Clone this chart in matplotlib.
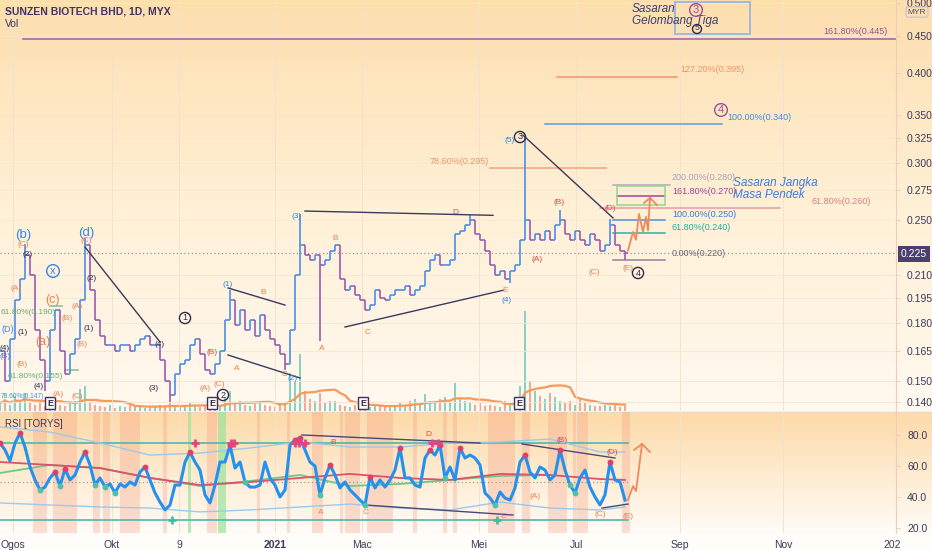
import numpy as np
import pandas as pd
import matplotlib
matplotlib.use("Agg")
import matplotlib.pyplot as plt
from matplotlib.collections import LineCollection
from matplotlib.patches import Rectangle
from matplotlib.ticker import FixedLocator, NullLocator, NullFormatter

plt.rcParams['font.family'] = ['Liberation Sans', 'DejaVu Sans']

# ---------------- data (one sample = 2 daily bars) ----------------
close = [0.165, 0.150, 0.171, 0.194, 0.207, 0.224, 0.210, 0.176, 0.160, 0.150,
         0.176, 0.188, 0.165, 0.153, 0.163, 0.171, 0.194, 0.231, 0.200, 0.182,
         0.173, 0.168, 0.168, 0.165, 0.168, 0.168, 0.165, 0.168, 0.171, 0.173,
         0.168, 0.168, 0.160, 0.150, 0.143, 0.153, 0.158, 0.160, 0.168, 0.171,
         0.163, 0.155, 0.153, 0.158, 0.165, 0.182, 0.194, 0.179, 0.188, 0.176,
         0.182, 0.173, 0.185, 0.176, 0.171, 0.168, 0.163, 0.158, 0.176, 0.210,
         0.231, 0.224, 0.220, 0.224, 0.217, 0.220, 0.227, 0.231, 0.207, 0.200,
         0.203, 0.197, 0.194, 0.188, 0.191, 0.200, 0.195, 0.194, 0.197, 0.200,
         0.200, 0.203, 0.197, 0.200, 0.203, 0.213, 0.220, 0.224, 0.217, 0.217,
         0.220, 0.239, 0.242, 0.246, 0.250, 0.239, 0.235, 0.227, 0.217, 0.210,
         0.213, 0.207, 0.213, 0.217, 0.235, 0.250, 0.235, 0.239, 0.235, 0.242,
         0.235, 0.246, 0.250, 0.239, 0.235, 0.242, 0.235, 0.231, 0.239, 0.235,
         0.227, 0.231, 0.246, 0.231, 0.227, 0.225]
hi_idx = [5, 17, 46, 60, 94, 105, 112, 122]
hi_val = [0.232, 0.236, 0.200, 0.255, 0.254, 0.326, 0.258, 0.251]
lo_idx = [9, 34, 57, 64, 102, 125]
lo_val = [0.145, 0.140, 0.155, 0.170, 0.205, 0.220]

volume = [8, 12, 6, 15, 10, 18, 8, 6, 10, 5,
          12, 8, 6, 5, 9, 10, 22, 25, 8, 6,
          5, 4, 6, 3, 5, 4, 6, 4, 5, 3, 4,
          4, 6, 5, 8, 6, 4, 5,
          8, 5, 4, 6, 5, 4, 5,
          14, 20, 8, 10, 6, 5, 7, 10,
          6, 5, 4, 6, 8, 38,
          30, 57, 20, 12, 10, 18, 8, 10,
          10, 6, 5, 4, 6, 4, 5, 4,
          6, 5, 4, 6, 5, 8, 6, 10, 12, 6,
          17, 10, 8, 12, 14, 8, 28, 12, 10, 8,
          6, 8, 5, 6, 5, 4, 10, 8, 12, 25,
          100, 30, 20, 15, 12, 18, 14, 10,
          8, 10, 6, 12, 8, 6, 5, 5,
          6, 5, 8, 4, 5]

rsi = [75.0, 70.5, 63.4, 75.0, 81.5, 72.4, 59.5, 51.1, 44.6, 46.5,
       52.4, 56.2, 47.2, 58.2, 51.1, 54.3, 62.7, 69.2, 60.8, 47.8,
       52.4, 46.5, 48.5, 42.7, 48.5, 46.5, 49.8, 47.8, 56.2, 59.5,
       51.1, 42.7, 36.8, 31.7, 34.9, 47.8, 47.8, 62.7, 69.2, 62.7,
       57.5, 41.4, 36.2, 47.8, 62.7, 62.7, 73.7, 58.8, 62.7, 49.8,
       46.5, 46.5, 47.8, 62.7, 52.4, 47.8, 40.1, 44.6, 73.7, 77.0,
       78.3, 70.5, 62.7, 60.1, 41.4, 52.4, 60.8, 54.3, 45.9, 49.8,
       44.6, 41.4, 38.1, 34.9, 53.0, 45.9, 51.1, 46.5, 51.1, 57.5,
       71.8, 52.4, 52.4, 47.8, 46.5, 65.3, 70.5, 67.2, 73.7, 52.4,
       59.5, 51.1, 71.8, 65.3, 67.2, 65.3, 60.8, 42.7, 39.4, 34.9,
       43.3, 39.4, 38.1, 45.9, 62.7, 67.2, 56.2, 52.4, 59.5, 57.5,
       51.1, 54.3, 70.5, 57.5, 47.8, 42.7, 52.4, 57.5, 46.5, 40.1,
       34.9, 41.4, 62.7, 51.1, 49.8, 38.1]
band_idx = [0, 10, 20, 30, 40, 50, 60, 70, 80, 90, 100, 110, 120, 125]
rsi_upper = [85.4, 82.1, 75.0, 67.2, 68.5, 71.8, 75.7, 72.4, 72.4, 75.0, 75.7, 77.6, 69.2, 69.2]
rsi_lower = [36.2, 34.9, 33.6, 32.9, 30.4, 31.7, 33.6, 35.5, 32.9, 31.7, 36.8, 32.9, 31.7, 33.6]
rsi_ma_red = [62.7, 60.8, 58.8, 52.4, 47.8, 49.8, 52.4, 55.0, 52.4, 51.1, 55.0, 54.3, 51.7, 51.1]
rsi_ma_green = [55.6, 60.8, 58.8, 52.4, 47.2, 50.4, 54.3, 47.2, 48.5, 51.1, 53.7, 54.3]
peak_idx = [0, 4, 11, 13, 17, 29, 38, 46, 59, 60, 66, 74, 80, 86, 88, 92, 105, 112, 122]
trough_idx = [8, 12, 19, 21, 23, 49, 64, 73, 89, 99, 114, 115]
plus_top_x = [38.9, 46.2, 46.8, 59.0, 59.7, 61.0, 86.3, 87.6]
plus_bot_x = [34.4, 99.4]
ob_zones = [(6.6, 9.4), (10.6, 15.4), (18.6, 20), (20.6, 22), (24, 28), (32.6, 33.4),
            (41.4, 43.4), (51.4, 52), (57.4, 58), (62.4, 64.6), (68, 68.6), (69, 72),
            (73.4, 78.6), (82.6, 83.4), (88.6, 89.4), (90.6, 91.4), (97.6, 103),
            (104.4, 106), (109.6, 113.4), (114.6, 117.6), (124.4, 126)]
green_zones = [(37.6, 38.2), (43.6, 45.2)]

month_labels = ["Ogos", "Okt", "9", "2021", "Mac", "Mei", "Jul", "Sep", "Nov", "202"]
month_pos = [2.6, 22.4, 35.8, 55.0, 72.4, 95.8, 115.2, 136.0, 156.6, 178.4]
price_ticks = [0.14, 0.15, 0.165, 0.18, 0.195, 0.21, 0.25, 0.275, 0.30, 0.325, 0.35, 0.40, 0.45, 0.50]
rsi_ticks = [20, 40, 60, 80]

# fib / target levels: (price, x0, x1, colour)
fib_levels = [(0.445, 4.6, 179.2, '#a0609a'), (0.395, 111.4, 135.4, '#f4946b'),
              (0.340, 109.0, 144.4, '#5a9be0'), (0.295, 98.0, 121.2, '#f4a080'),
              (0.280, 122.6, 134.0, '#b0a8c0'), (0.270, 123.4, 133.0, '#a0439a'),
              (0.260, 120.0, 156.0, '#e89aa8'), (0.250, 122.6, 133.0, '#4a90e2'),
              (0.240, 122.6, 133.0, '#26b5a5'), (0.220, 122.6, 133.0, '#8a84a0'),
              (0.190, 10.0, 12.4, '#7fbf8a'), (0.155, 13.0, 15.6, '#7fbf8a')]
trend_price = [[(17, 0.2296), (32, 0.1696)], [(45.6, 0.2015), (57, 0.1908)],
               [(45.6, 0.1627), (60, 0.1512)], [(61, 0.2575), (98.6, 0.254)],
               [(69, 0.1779), (100.6, 0.200)], [(104.6, 0.328), (122.6, 0.2519)]]
trend_rsi = [[(60.4, 80.2), (96, 75.0)], [(104.4, 74.4), (123, 65.3)],
             [(73, 34.9), (102.6, 28.4)], [(120.4, 32.9), (125.6, 35.5)]]
proj_price = [(125.6, 0.227), (126.6, 0.2409), (127.2, 0.235), (127.8, 0.2551), (128.6, 0.241),
              (129.2, 0.2527), (129.6, 0.242), (130.0, 0.2685)]
proj_price_head = [(128.8, 0.2642), (130.0, 0.2685), (131.4, 0.2625)]
proj_rsi = [(125.6, 38.1), (126.6, 47.2), (127.2, 43.9), (128.0, 64.0), (128.4, 74.4)]
proj_rsi_head = [(126.8, 70.5), (128.4, 74.4), (130.0, 69.2)]

# ---------------- figure ----------------
W, H = 932, 550
fig = plt.figure(figsize=(W / 100, H / 100), dpi=100)

# background gradient
def lerp(a, b, t):
    return np.array(a) + (np.array(b) - np.array(a)) * t
rows = []
for y in range(H):
    if y <= 411:
        t = y / 411
        c = lerp((253, 222, 174), (255, 240, 214), t / 0.5) if t < 0.5 else lerp((255, 240, 214), (255, 249, 240), (t - 0.5) / 0.5)
    elif y <= 533:
        t = (y - 411) / 122
        c = lerp((253, 218, 168), (255, 252, 248), t)
    else:
        c = np.array((255, 253, 250))
    rows.append(c / 255.0)
grad = np.array(rows).reshape(H, 1, 3)
bg = fig.add_axes([0, 0, 1, 1], zorder=-10)
bg.imshow(grad, aspect='auto', extent=[0, 1, 0, 1], interpolation='bilinear')
bg.axis('off')

AXW = 896 / W
rect_p = [0, 1 - 411 / H, AXW, 411 / H]
rect_r = [0, (H - 533) / H, AXW, (533 - 412) / H]
XMAX = 896 / 5
n = len(close)
x = np.arange(n)

# volume (behind price)
axv = fig.add_axes(rect_p, zorder=1)
axv.set_facecolor('none')
vcol = []
for i in range(n):
    o = close[i - 1] if i > 0 else close[0]
    vcol.append('#8ad1c2' if close[i] >= o else '#f2a899')
axv.bar(x, volume, width=0.55, color=vcol, linewidth=0)
vma = pd.Series(volume).rolling(10, min_periods=1).mean()
axv.plot(x, vma, color='#f59a5a', lw=1.6)
axv.set_xlim(0, XMAX)
axv.set_ylim(0, 411)
axv.axis('off')

# price
ax = fig.add_axes(rect_p, zorder=2)
ax.set_facecolor('none')
ax.set_yscale('log')
ax.set_xlim(0, XMAX)
ax.set_ylim(0.1361, 0.5047)
for mp in month_pos[:-1]:
    ax.axvline(mp, color='#f3e2cc', lw=0.7, zorder=0)
for pt in price_ticks:
    ax.axhline(pt, color='#f6e6d2', lw=0.6, zorder=0)

hi_map = dict(zip(hi_idx, hi_val))
lo_map = dict(zip(lo_idx, lo_val))
segs, cols = [], []
for i, c in enumerate(close):
    o = close[i - 1] if i > 0 else close[0]
    h = max(o, c, hi_map.get(i, 0))
    l = min(o, c, lo_map.get(i, 9))
    col = '#4a8fe7' if c >= o else '#9a5cb0'
    segs += [[(i, l), (i, h)], [(i - 0.5, o), (i, o)], [(i, c), (i + 0.5, c)]]
    cols += [col] * 3
ax.add_collection(LineCollection(segs, colors=cols, linewidths=1.2, zorder=3))

ax.axhline(0.225, color='#9a90a8', lw=0.9, ls=(0, (1, 2)), zorder=2)
for lvl, x0, x1, col in fib_levels:
    ax.plot([x0, x1], [lvl, lvl], color=col, lw=1.1, zorder=2)
ax.add_patch(Rectangle((123.4, 0.2625), 9.6, 0.279 - 0.2625, fill=False, ec='#8fd88f', lw=1.1, zorder=2))
ax.add_patch(Rectangle((135.0, 0.4529), 15.0, 0.5015 - 0.4529, fill=False, ec='#8fb3e6', lw=1.2, zorder=2))
for seg in trend_price:
    ax.plot(*zip(*seg), color='#3a3862', lw=1.0, zorder=4)
ax.plot(*zip(*proj_price), color='#f08a5d', lw=1.3, zorder=4)
ax.plot(*zip(*proj_price_head), color='#f08a5d', lw=1.3, zorder=4)

ax.yaxis.tick_right()
ax.yaxis.set_major_locator(FixedLocator(price_ticks))
ax.yaxis.set_minor_locator(NullLocator())
ax.yaxis.set_minor_formatter(NullFormatter())
ax.set_yticklabels([f"{v:.3f}" for v in price_ticks])
ax.tick_params(axis='y', length=3, pad=5, labelsize=7.5, colors='#3b3a5a', width=0.6)
ax.tick_params(axis='y', color='#e8c9b8')
ax.set_xticks([])
for s in ['top', 'left', 'bottom']:
    ax.spines[s].set_visible(False)
ax.spines['right'].set_color('#efcdbd')

# RSI
axr = fig.add_axes(rect_r, zorder=2)
axr.set_facecolor('none')
axr.set_xlim(0, XMAX)
axr.set_ylim(16.76, 95.08)
for a, b in ob_zones:
    axr.axvspan(a, b, color=(0.96, 0.60, 0.50), alpha=0.3, lw=0, zorder=0)
for a, b in green_zones:
    axr.axvspan(a, b, color='#9be39b', alpha=0.7, lw=0, zorder=0)
for mp in month_pos[:-1]:
    axr.axvline(mp, color='#f3e2cc', lw=0.7, zorder=0)
axr.plot([0, 125.6], [75, 75], color='#4fb8ad', lw=1.2, zorder=1)
axr.plot([0, 125.6], [25, 25], color='#4fb8ad', lw=1.2, zorder=1)
axr.plot([0, 125.6], [50, 50], color='#a09aa8', lw=0.9, ls=(0, (1, 2)), zorder=1)
axr.plot(band_idx, rsi_upper, color='#9cc9ea', lw=1.0, zorder=2)
axr.plot(band_idx, rsi_lower, color='#9cc9ea', lw=1.0, zorder=2)
axr.plot(band_idx[:len(rsi_ma_green)], rsi_ma_green, color='#6cc98a', lw=1.3, zorder=2)
axr.plot(band_idx, rsi_ma_red, color='#e0506a', lw=1.3, zorder=2)
for seg in trend_rsi:
    axr.plot(*zip(*seg), color='#4a4878', lw=1.0, zorder=3)
axr.plot(x, rsi, color='#2391f0', lw=2.2, zorder=4)
axr.plot(peak_idx, [rsi[i] for i in peak_idx], 'o', color='#d9406e', ms=3.2, zorder=5)
axr.plot(trough_idx, [rsi[i] for i in trough_idx], 'o', color='#4cc2a8', ms=3.2, zorder=5)
axr.plot(plus_top_x, [75] * len(plus_top_x), '+', color='#e0457b', ms=6, mew=2, zorder=5)
axr.plot(plus_bot_x, [25] * len(plus_bot_x), '+', color='#3cc0a0', ms=6, mew=2, zorder=5)
axr.plot(*zip(*proj_rsi), color='#f08a5d', lw=1.3, zorder=4)
axr.plot(*zip(*proj_rsi_head), color='#f08a5d', lw=1.3, zorder=4)

axr.yaxis.tick_right()
axr.set_yticks(rsi_ticks)
axr.set_yticklabels([f"{v:.1f}" for v in rsi_ticks])
axr.tick_params(axis='y', length=3, pad=5, labelsize=7.5, colors='#3b3a5a', width=0.6)
axr.tick_params(axis='y', color='#e8c9b8')
axr.set_xticks(month_pos)
axr.set_xticklabels(month_labels)
axr.tick_params(axis='x', length=0, pad=5, labelsize=7.5, colors='#3b3a5a')
axr.get_xticklabels()[3].set_fontweight('bold')
for s in ['top', 'left', 'bottom']:
    axr.spines[s].set_visible(False)
axr.spines['right'].set_color('#efcdbd')

# separator between panes
fig.add_artist(plt.Line2D([0, 1], [1 - 411.5 / H, 1 - 411.5 / H], color='#ecd9c6', lw=1.0))

# ---------------- text annotations ----------------
def T(px, py, s, color, size=6.0, ha='center', **kw):
    fig.text(px / W, 1 - py / H, s, color=color, fontsize=size, ha=ha, va='center', **kw)

DK = '#2e2c4a'
OR = '#f0804d'
RD = '#e2473a'
BL = '#3585e8'
PU = '#9a4f9a'

T(5, 11, "SUNZEN BIOTECH BHD, 1D, MYX", '#3d3566', 7.5, ha='left', weight='bold')
T(5, 24, "Vol", '#3d3566', 7.5, ha='left')
T(5, 424, "RSI [TORYS]", '#3d3566', 7.0, ha='left')
T(917, 12, "MYR", '#4a4868', 6.0, bbox=dict(boxstyle='round,pad=0.2', fc='none', ec='#c9c0d0', lw=0.8))
T(914, 254, "0.225", 'white', 7.5, bbox=dict(boxstyle='square,pad=0.25', fc='#4b3f72', ec='none'))

# fib labels
T(888, 31, "161.80%(0.445)", PU, 6.5, ha='right')
T(680, 70, "127.20%(0.395)", '#f4946b', 6.5, ha='left')
T(727, 118, "100.00%(0.340)", '#3d8fe0', 6.5, ha='left')
T(489, 162, "78.60%(0.295)", '#f4946b', 6.5, ha='right')
T(672, 177, "200.00%(0.280)", '#a8a0bc', 6.5, ha='left')
T(672, 191, "161.80%(0.270)", '#a0439a', 6.5, ha='left')
T(812, 202, "61.80%(0.260)", '#e07a8e', 6.5, ha='left')
T(672, 214, "100.00%(0.250)", '#2f7fe0', 6.5, ha='left')
T(672, 228, "61.80%(0.240)", '#22b0a0', 6.5, ha='left')
T(672, 254, "0.00%(0.220)", '#6d6880', 6.5, ha='left')
T(1, 312, "61.80%(0.190)", '#6aaa72', 6.0, ha='left')
T(63, 376, "61.80%(0.155)", '#6aaa72', 6.0, ha='right')
T(1, 396, "78.60%(0.147)", '#3d8fe0', 4.8, ha='left')

T(632, 9, "Sasaran", '#3a3f7a', 8.5, ha='left', style='italic')
T(632, 21, "Gelombang Tiga", '#3a3f7a', 8.5, ha='left', style='italic')
T(733, 183, "Sasaran Jangka", '#3d7be0', 8.5, ha='left', style='italic')
T(733, 195, "Masa Pendek", '#3d7be0', 8.5, ha='left', style='italic')

def C(px, py, s, color, size=7.0):
    T(px, py, s, color, size, bbox=dict(boxstyle='circle,pad=0.12', fc='none', ec=color, lw=1.0))

C(696, 10, "3", PU, 8)
C(697, 29, "5", DK, 6)
C(721, 110, "4", PU, 8)
C(520, 137, "3", DK, 6.5)
C(638, 273, "4", DK, 6.5)
C(185, 318, "1", DK, 6.5)
C(223, 395, "2", DK, 6.5)
C(53, 271, "x", BL, 8)

for px in [50, 212, 363, 519]:
    T(px, 403, "E", DK, 6.5, weight='bold',
      bbox=dict(boxstyle='square,pad=0.18', fc='#fff7ee', ec='#3d3566', lw=1.0))

wave = [
    (23, 235, "(b)", BL, 9.5), (23, 244, "(C)", OR, 6), (28, 254, "(2)", DK, 6),
    (86, 233, "(d)", BL, 9.5), (86, 241, "(C)", OR, 6), (92, 279, "(2)", DK, 6),
    (16, 288, "(A)", OR, 6), (52, 300, "(c)", OR, 9), (77, 307, "(A)", OR, 6),
    (67, 318, "(B)", OR, 6), (8, 330, "(D)", BL, 6.5), (23, 332, "(1)", DK, 6),
    (89, 328, "(1)", DK, 6), (43, 342, "(a)", OR, 9), (82, 344, "(B)", OR, 6),
    (5, 348, "(4)", DK, 6), (5, 356, "(B)", BL, 6), (22, 365, "(B)", OR, 6),
    (39, 387, "(4)", DK, 6), (58, 395, "(A)", OR, 6), (77, 397, "(C)", OR, 6),
    (160, 345, "(4)", DK, 6), (154, 388, "(3)", DK, 6), (212, 353, "(B)", RD, 6),
    (205, 389, "(A)", OR, 6), (219, 385, "(C)", OR, 6), (228, 285, "(1)", BL, 6),
    (263, 293, "B", OR, 6), (237, 368, "A", OR, 6), (285, 375, "C", OR, 6),
    (293, 378, "(2)", BL, 6), (297, 216, "(3)", BL, 6), (335, 238, "B", OR, 6),
    (322, 349, "A", OR, 6), (368, 332, "C", OR, 6), (455, 213, "D", RD, 6),
    (505, 290, "E", OR, 6), (507, 301, "(4)", BL, 6), (510, 140, "(5)", BL, 6),
    (559, 203, "(B)", RD, 6), (537, 260, "(A)", RD, 6), (594, 272, "(C)", OR, 6),
    (610, 208, "(D)", RD, 6), (628, 269, "(E)", OR, 6),
    # RSI pane
    (333, 443, "B", RD, 6), (428, 435, "D", RD, 6), (321, 512, "A", OR, 6),
    (366, 513, "C", OR, 6), (503, 517, "E", OR, 6), (562, 441, "(B)", RD, 6),
    (612, 452, "(D)", RD, 6), (535, 497, "(A)", OR, 6), (600, 515, "(C)", OR, 6),
    (628, 516, "(E)", OR, 6),
]
for px, py, s, col, sz in wave:
    T(px, py, s, col, sz)

fig.savefig("out.png", dpi=100)
